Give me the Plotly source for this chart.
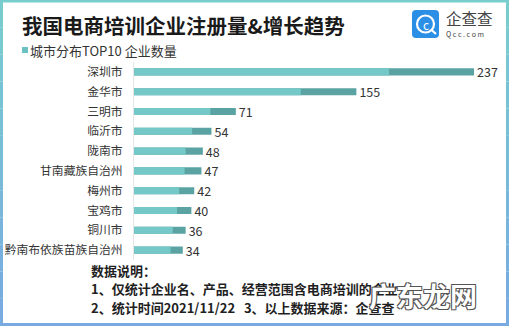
import plotly.graph_objects as go

cities = ["深圳市", "金华市", "三明市", "临沂市", "陇南市", "甘南藏族自治州",
          "梅州市", "宝鸡市", "铜川市", "黔南布依族苗族自治州"]
counts = [237, 155, 71, 54, 48, 47, 42, 40, 36, 34]
light_share = 0.75  # visual two-tone split of each bar

W, H = 509, 326
L, R, T, B = 134, 2, 62, 66
PW, PH = W - L - R, H - T - B
XMAX = 260

def px(x):
    return (x - L) / PW

def py(y):
    return (H - B - y) / PH

FONT = "Noto Sans CJK SC, Noto Sans, sans-serif"

fig = go.Figure()
fig.add_trace(go.Bar(
    y=cities, x=counts, orientation="h", width=0.36,
    marker=dict(color="#5ba3a2", line=dict(width=0)),
    text=[str(v) for v in counts], textposition="outside", constraintext="none",
    textfont=dict(size=12.5, color="#333333", family=FONT),
    cliponaxis=False, hoverinfo="skip", showlegend=False,
))
fig.add_trace(go.Bar(
    y=cities, x=[v * light_share for v in counts], orientation="h", width=0.36,
    marker=dict(color="#74c8c8", line=dict(width=0)),
    hoverinfo="skip", showlegend=False,
))

shapes = []
annotations = []

def mix(c1, c2, t):
    return "#%02x%02x%02x" % tuple(int(round(a + (b - a) * t)) for a, b in zip(c1, c2))

teal = (120, 205, 205)
blue = (120, 170, 225)
shapes.append(dict(type="rect", xref="paper", yref="paper", x0=px(0), x1=px(W), y0=py(0), y1=py(2.5),
                   fillcolor=mix(teal, blue, 0), line=dict(width=0), layer="above"))
shapes.append(dict(type="rect", xref="paper", yref="paper", x0=px(0), x1=px(W), y0=py(H - 3), y1=py(H),
                   fillcolor=mix(teal, blue, 1), line=dict(width=0), layer="above"))
n = 12
for i in range(n):
    y0, y1 = H * i / n, H * (i + 1) / n
    c = mix(teal, blue, (i + 0.5) / n)
    shapes.append(dict(type="rect", xref="paper", yref="paper", x0=px(0), x1=px(3), y0=py(y1), y1=py(y0),
                       fillcolor=c, line=dict(width=0), layer="above"))
    shapes.append(dict(type="rect", xref="paper", yref="paper", x0=px(W - 3), x1=px(W), y0=py(y1), y1=py(y0),
                       fillcolor=c, line=dict(width=0), layer="above"))

# legend square
shapes.append(dict(type="rect", xref="paper", yref="paper", x0=px(22), x1=px(28), y0=py(53), y1=py(47),
                   fillcolor="#6cc2c2", line=dict(width=0)))

# logo
shapes.append(dict(type="path", xref="paper", yref="paper",
                   path="M %f,%f L %f,%f Q %f,%f %f,%f L %f,%f Q %f,%f %f,%f L %f,%f Q %f,%f %f,%f L %f,%f Q %f,%f %f,%f Z" % (
                       px(416), py(10), px(435), py(10), px(439), py(10), px(439), py(14),
                       px(439), py(34), px(439), py(38), px(435), py(38),
                       px(416), py(38), px(412), py(38), px(412), py(34),
                       px(412), py(14), px(412), py(10), px(416), py(10)),
                   fillcolor="#2b8fe6", line=dict(width=0)))
shapes.append(dict(type="circle", xref="paper", yref="paper", x0=px(417), x1=px(434), y0=py(32.5), y1=py(15.5),
                   fillcolor="rgba(0,0,0,0)", line=dict(color="white", width=2.2)))
shapes.append(dict(type="line", xref="paper", yref="paper", x0=px(431), x1=px(436), y0=py(29.5), y1=py(34),
                   line=dict(color="white", width=2.2)))

annotations.append(dict(text="c", xref="paper", yref="paper", x=px(425.5), y=py(24), showarrow=False,
                        font=dict(size=12, color="white", family=FONT), xanchor="center", yanchor="middle"))
annotations.append(dict(text="企查查", xref="paper", yref="paper", x=px(444), y=py(18.5), showarrow=False,
                        font=dict(size=15.5, color="#444444", family=FONT), xanchor="left", yanchor="middle"))
annotations.append(dict(text="Q c c . c o m", xref="paper", yref="paper", x=px(444), y=py(34), showarrow=False,
                        font=dict(size=7, color="#444444", family=FONT), xanchor="left", yanchor="middle"))

# title & subtitle
annotations.append(dict(text="<b>我国电商培训企业注册量&增长趋势</b>", xref="paper", yref="paper",
                        x=px(20), y=py(25), showarrow=False, xanchor="left", yanchor="middle",
                        font=dict(size=20.5, color="#1a1a1a", family=FONT)))
annotations.append(dict(text="城市分布TOP10 企业数量", xref="paper", yref="paper",
                        x=px(28.5), y=py(50), showarrow=False, xanchor="left", yanchor="middle",
                        font=dict(size=13, color="#333333", family=FONT)))

# notes
notes = ["<b>数据说明：</b>",
         "<b>1、仅统计企业名、产品、经营范围含电商培训的企业</b>",
         "<b>2、统计时间2021/11/22   3、以上数据来源：企查查</b>"]
for txt, yy in zip(notes, [270, 288.5, 307]):
    annotations.append(dict(text=txt, xref="paper", yref="paper", x=px(89), y=py(yy), showarrow=False,
                            xanchor="left", yanchor="middle",
                            font=dict(size=13, color="#1f1f1f", family=FONT)))

# watermark
annotations.append(dict(text="<b>广东龙网</b>", xref="paper", yref="paper", x=px(423), y=py(295), showarrow=False,
                        xanchor="center", yanchor="middle",
                        font=dict(size=27, color="white", family=FONT,
                                  shadow="1px 1px 0 #555, -1px -1px 0 #555, 1px -1px 0 #555, -1px 1px 0 #555")))

fig.update_layout(
    width=W, height=H, margin=dict(l=L, r=R, t=T, b=B),
    paper_bgcolor="white", plot_bgcolor="white",
    barmode="overlay", bargap=0.6,
    shapes=shapes, annotations=annotations,
    xaxis=dict(range=[0, XMAX], visible=False, showgrid=False, zeroline=False, fixedrange=True),
    yaxis=dict(autorange="reversed", showgrid=False, zeroline=False, showline=True, linecolor="#e6e6e6",
               linewidth=1, ticks="", ticklabelstandoff=8,
               tickfont=dict(size=11.8, color="#333333", family=FONT), fixedrange=True),
    font=dict(family=FONT),
)

fig.write_html("out.html", config={"displayModeBar": False})
